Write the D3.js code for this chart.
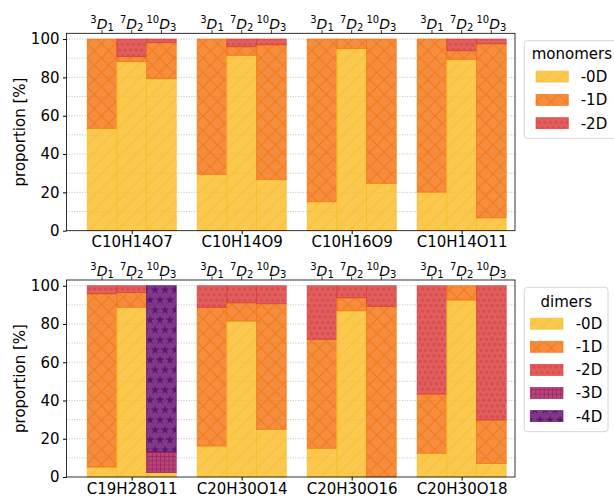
<!DOCTYPE html>
<html><head><meta charset="utf-8">
<script src="https://cdn.jsdelivr.net/npm/d3@7"></script>
<style>body{margin:0;background:#fff;} svg{display:block;font-family:"DejaVu Sans",sans-serif;}</style>
</head><body><svg id="c" width="614" height="496"></svg>
<script>
// ---- data ----
const monoFormulas = ["C10H14O7", "C10H14O9", "C10H16O9", "C10H14O11"];
const diFormulas = ["C19H28O11", "C20H30O14", "C20H30O16", "C20H30O18"];
const methodSup = ["3", "7", "10"];
const methodSub = ["1", "2", "3"];
const monoLevels = ["-0D", "-1D", "-2D"];
const diLevels = ["-0D", "-1D", "-2D", "-3D", "-4D"];
const yTicks = [0, 20, 40, 60, 80, 100];
// values ordered formula-major: [f0 m0, f0 m1, f0 m2, f1 m0, ...]
const mono0D = [53.4, 88.2, 79.3, 29.4, 91.5, 26.6, 15.1, 95.0, 24.7, 20.1, 89.4, 6.7];
const mono1D = [46.6, 2.6, 18.8, 70.6, 4.5, 70.4, 84.9, 5.0, 75.3, 79.9, 4.5, 90.8];
const mono2D = [0, 9.2, 1.9, 0, 4.0, 3.0, 0, 0, 0, 0, 6.1, 2.5];
const di0D = [5.2, 88.7, 2.3, 16.2, 81.5, 24.9, 15.0, 86.9, 0, 12.4, 92.5, 7.0];
const di1D = [90.6, 7.7, 0, 72.5, 9.6, 65.7, 57.0, 6.8, 89.2, 31.0, 7.5, 22.8];
const di2D = [4.2, 3.6, 0, 11.3, 8.9, 9.4, 28.0, 6.3, 10.8, 56.6, 0, 70.2];
const di3D = [0, 0, 10.9, 0, 0, 0, 0, 0, 0, 0, 0, 0];
const di4D = [0, 0, 86.8, 0, 0, 0, 0, 0, 0, 0, 0, 0];

const levelColors = ["#fabb23", "#f2720e", "#d83837", "#a01c59", "#5c096b"];
const A = 0.8;

const svg = d3.select("#c");
const defs = svg.append("defs");

// ---- hatch patterns ----
function pat(k, w, h) {
  const p = defs.append("pattern").attr("id", "h" + k).attr("patternUnits", "userSpaceOnUse")
    .attr("width", w).attr("height", h);
  p.append("rect").attr("width", w).attr("height", h).attr("fill", levelColors[k]).attr("fill-opacity", A);
  return p;
}
const H = 14.5;
{
  const p = pat(0, H, H);
  p.append("path").attr("d", `M0,${H}L${H},0M${-H/2},${H/2}L${H/2},${-H/2}M${H/2},${H*1.5}L${H*1.5},${H/2}`)
    .attr("stroke", levelColors[0]).attr("stroke-opacity", A).attr("stroke-width", 1);
}
{
  const p = pat(1, H, H);
  p.append("path").attr("d", `M0,${H}L${H},0M${-H/2},${H/2}L${H/2},${-H/2}M${H/2},${H*1.5}L${H*1.5},${H/2}` +
    `M0,0L${H},${H}M${-H/2},${H/2}L${H/2},${H*1.5}M${H/2},${-H/2}L${H*1.5},${H/2}`)
    .attr("stroke", levelColors[1]).attr("stroke-opacity", A).attr("stroke-width", 1);
}
{
  const s = 5.56;
  const p = pat(2, s, 2 * s);
  [[0, 0], [s, 0], [0, 2 * s], [s, 2 * s], [s / 2, s]].forEach(([cx, cy]) =>
    p.append("circle").attr("cx", cx).attr("cy", cy).attr("r", 1.2).attr("fill", "none")
      .attr("stroke", levelColors[2]).attr("stroke-opacity", A).attr("stroke-width", 0.9));
}
{
  const s = 4.17;
  const p = pat(3, s, s);
  p.append("path").attr("d", `M0,${s/2}H${s}M${s/2},0V${s}`)
    .attr("stroke", levelColors[3]).attr("stroke-opacity", A).attr("stroke-width", 0.9);
}
{
  const s = 10;
  const p = pat(4, s, 2 * s);
  const star = d3.symbol(d3.symbolStar).size(26)();
  [[0, 0], [s, 0], [0, 2 * s], [s, 2 * s], [s / 2, s]].forEach(([cx, cy]) =>
    p.append("path").attr("d", star).attr("transform", `translate(${cx},${cy})`)
      .attr("fill", levelColors[4]).attr("fill-opacity", A));
}

// ---- scales ----
const x = d3.scaleLinear().domain([-0.593, 3.485]).range([66.5, 515]);
const bw = 0.27;
const offs = [-0.27, 0, 0.27];

function panel(cfg) {
  const y = d3.scaleLinear().domain([0, 103]).range([cfg.bottom, cfg.top]);
  const g = svg.append("g");
  // grid
  g.append("g").selectAll("line").data(d3.range(10, 101, 10)).join("line")
    .attr("x1", x.range()[0]).attr("x2", x.range()[1])
    .attr("y1", d => y(d)).attr("y2", d => y(d))
    .attr("stroke", "#b0b0b0").attr("stroke-width", 0.8).attr("stroke-dasharray", "1,1.6");
  // bars
  const segs = [];
  cfg.formulas.forEach((f, i) => {
    offs.forEach((o, j) => {
      let cum = 0;
      cfg.series.forEach((arr, k) => {
        const v = arr[i * 3 + j];
        if (v > 0) segs.push({ i, j, k, y0: cum, y1: cum + v });
        cum += v;
      });
    });
  });
  g.append("g").selectAll("rect").data(segs).join("rect")
    .attr("x", d => x(d.i + offs[d.j] - bw / 2))
    .attr("width", x(bw) - x(0))
    .attr("y", d => y(d.y1))
    .attr("height", d => y(d.y0) - y(d.y1))
    .attr("fill", d => `url(#h${d.k})`)
    .attr("stroke", d => levelColors[d.k]).attr("stroke-opacity", A).attr("stroke-width", 0.8);
  // left axis
  const ya = g.append("g").attr("transform", `translate(${x.range()[0]},0)`)
    .call(d3.axisLeft(y).tickValues(yTicks).tickSize(3.5).tickPadding(3.5));
  ya.select(".domain").remove();
  ya.selectAll("text").attr("font-size", 15).attr("font-family", "DejaVu Sans").attr("fill", "#000");
  // bottom axis
  const xa = g.append("g").attr("transform", `translate(0,${cfg.bottom})`)
    .call(d3.axisBottom(x).tickValues([0, 1, 2, 3]).tickFormat(i => cfg.formulas[i]).tickSize(3.5).tickPadding(2.5));
  xa.select(".domain").remove();
  xa.selectAll("text").attr("font-size", 15).attr("font-family", "DejaVu Sans").attr("fill", "#000");
  // top ticks + labels
  const tops = [];
  cfg.formulas.forEach((f, i) => offs.forEach((o, j) => tops.push({ pos: i + o, j })));
  g.append("g").selectAll("line").data(tops).join("line")
    .attr("x1", d => x(d.pos)).attr("x2", d => x(d.pos))
    .attr("y1", cfg.top).attr("y2", cfg.top - 3.5).attr("stroke", "#000").attr("stroke-width", 0.8);
  const tl = g.append("g").selectAll("text").data(tops).join("text")
    .attr("x", d => x(d.pos)).attr("y", cfg.top - 4.5).attr("text-anchor", "middle").attr("fill", "#000");
  tl.append("tspan").attr("font-size", 10).attr("dy", -5.5).text(d => methodSup[d.j]);
  tl.append("tspan").attr("font-size", 14).attr("font-style", "italic").attr("dy", 5.5).text("D");
  tl.append("tspan").attr("font-size", 10).attr("dy", 2.2).text(d => methodSub[d.j]);
  // spines
  g.append("rect").attr("x", x.range()[0]).attr("y", cfg.top)
    .attr("width", x.range()[1] - x.range()[0]).attr("height", cfg.bottom - cfg.top)
    .attr("fill", "none").attr("stroke", "#000").attr("stroke-width", 0.8);
  // y label
  g.append("text").attr("transform", `translate(25,${(cfg.top + cfg.bottom) / 2}) rotate(-90)`)
    .attr("text-anchor", "middle").attr("font-size", 15).text("proportion [%]");
  // legend
  const L = cfg.legend;
  const lg = svg.append("g");
  lg.append("rect").attr("x", L.x).attr("y", L.y).attr("width", L.w).attr("height", L.h).attr("rx", 3)
    .attr("fill", "#fff").attr("fill-opacity", 0.8).attr("stroke", "#d6d6d6").attr("stroke-width", 1);
  lg.append("text").attr("x", L.tx).attr("y", L.ty).attr("text-anchor", L.tanchor)
    .attr("font-size", 15).text(cfg.title);
  cfg.levels.forEach((lab, k) => {
    const cy = L.cy0 + k * L.dy;
    lg.append("rect").attr("x", L.px).attr("y", cy - 5.5).attr("width", L.pw).attr("height", 11)
      .attr("fill", `url(#h${k})`).attr("stroke", levelColors[k]).attr("stroke-opacity", A).attr("stroke-width", 0.8);
    lg.append("text").attr("x", L.lx).attr("y", cy + 5.4).attr("font-size", 15).text(lab);
  });
}

panel({
  top: 33.3, bottom: 230.7, formulas: monoFormulas, series: [mono0D, mono1D, mono2D],
  title: "monomers", levels: monoLevels,
  legend: { x: 524.3, y: 40.7, w: 95, h: 97.6, tx: 531.7, ty: 59.3, tanchor: "start",
    cy0: 76.6, dy: 23.3, px: 536, pw: 32.3, lx: 580.7 }
});
panel({
  top: 280, bottom: 477, formulas: diFormulas, series: [di0D, di1D, di2D, di3D, di4D],
  title: "dimers", levels: diLevels,
  legend: { x: 524.3, y: 287.3, w: 83.7, h: 144.4, tx: 566.2, ty: 306.7, tanchor: "middle",
    cy0: 323.7, dy: 23.1, px: 530.3, pw: 32.7, lx: 575.7 }
});
</script></body></html>
